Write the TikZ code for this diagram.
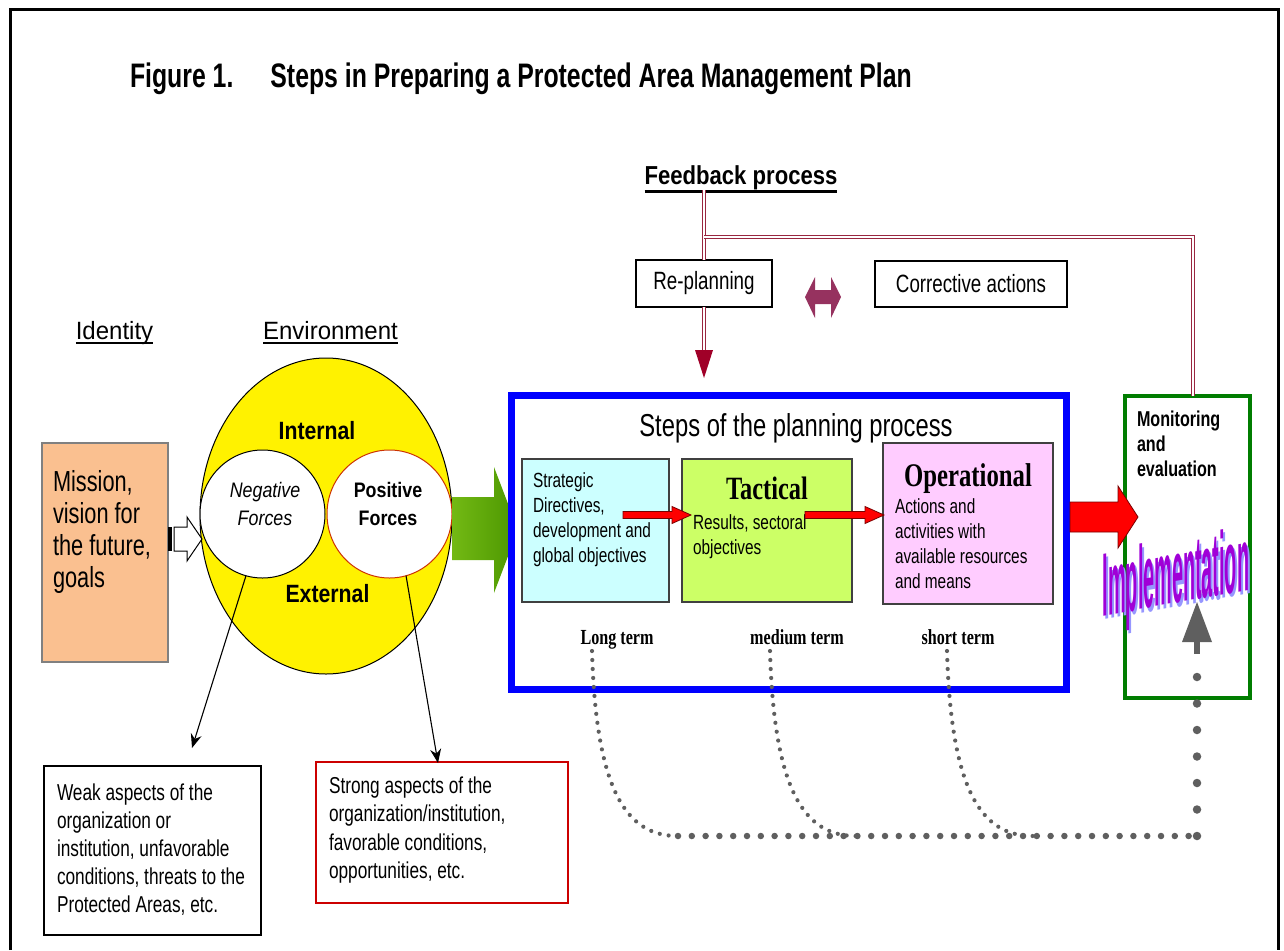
\documentclass[tikz,border=0pt]{standalone}
\usepackage{fontspec}
\usetikzlibrary{shapes.geometric,arrows.meta,calc}
\setmainfont{Liberation Sans}
\newfontfamily\fnar{Liberation Sans}[FakeStretch=0.75]
\newfontfamily\fmid{Liberation Sans}[FakeStretch=0.85]
\newfontfamily\fwide{Liberation Sans}[FakeStretch=0.96]
\newfontfamily\fhead{Liberation Sans}[FakeStretch=0.73]
\newfontfamily\fser{Liberation Serif}[FakeStretch=0.75]
\newfontfamily\fimpl{Liberation Sans}

\definecolor{maroonline}{RGB}{153,38,64}
\definecolor{maroonhead}{RGB}{160,0,40}
\definecolor{plum}{RGB}{150,50,95}
\definecolor{peach}{RGB}{250,192,144}
\definecolor{lightcyan}{RGB}{204,255,255}
\definecolor{limebox}{RGB}{204,255,102}
\definecolor{pinkbox}{RGB}{255,204,255}
\definecolor{monigreen}{RGB}{0,125,0}
\definecolor{dotgray}{RGB}{95,95,95}
\definecolor{posred}{RGB}{204,51,0}
\definecolor{strongred}{RGB}{204,0,0}
\definecolor{arrowred}{RGB}{255,0,0}
\definecolor{darkred}{RGB}{120,0,0}
\definecolor{implpurple}{RGB}{160,0,215}
\definecolor{implshadow}{RGB}{150,150,255}
\definecolor{greenlight}{RGB}{115,185,20}
\definecolor{greendark}{RGB}{75,150,0}

\newcommand\setfs[2]{\fontsize{#1}{#2}\selectfont}
% word-art lettering: tall, narrow letters with a soft offset shadow
\newcommand\wordart[1]{%
  \rlap{\raisebox{-4pt}{\hspace*{2pt}\textcolor{implshadow}{\scalebox{0.22}[1]{#1}}}}%
  \textcolor{implpurple}{\scalebox{0.22}[1]{#1}}}

\tikzset{
  box/.style={draw, line width=1.3pt, inner sep=0pt, outer sep=0pt, anchor=north west},
  txt/.style={inner sep=0pt, outer sep=0pt, align=left, anchor=north west},
  lbl/.style={inner sep=0pt, outer sep=0pt, anchor=base},
  fbline/.style={draw=maroonline, line width=1.1pt, double=white, double distance=1.6pt},
  smalldots/.style={draw=dotgray, line width=4.2pt, line cap=round, dash pattern=on 0pt off 9pt},
  rowdots/.style={draw=dotgray, line width=6.5pt, line cap=round, dash pattern=on 0pt off 13.8pt},
  coldots/.style={draw=dotgray, line width=8.5pt, line cap=round, dash pattern=on 0pt off 26.5pt},
  thinarrow/.style={draw=black, line width=1.1pt, -{Stealth[length=14pt,width=11pt]}},
  fatred/.style={fill=arrowred, draw=darkred, line width=0.8pt, line join=miter},
  smalltext/.style={font=\fnar\setfs{20.5}{25}}
}

\begin{document}
\begin{tikzpicture}[x=1pt,y=-1pt]
\useasboundingbox (0,0) rectangle (1284,950);

% outer frame
\draw[line width=3pt] (10,950) -- (10,10) -- (1278,10) -- (1278,950);

% title
\node[lbl, anchor=base west, font=\fhead\bfseries\setfs{34}{40}] (title) at (130,88)
  {Figure 1.\hspace*{37pt}Steps in Preparing a Protected Area Management Plan};

% column headings
\node[lbl, font=\fwide\setfs{25}{30}] (identity) at (114.5,339) {Identity};
\draw[line width=2.2pt] ([yshift=-4pt]identity.base west) -- ([yshift=-4pt]identity.base east);
\node[lbl, font=\fwide\setfs{25}{30}] (environment) at (330.5,339) {Environment};
\draw[line width=2.2pt] ([yshift=-4pt]environment.base west) -- ([yshift=-4pt]environment.base east);

% identity box
\node[box, draw=gray, line width=1.2pt, fill=peach, minimum width=126pt, minimum height=219pt] (mission) at (42,443) {};
\node[txt, font=\fnar\setfs{29}{32}] (missiontxt) at (53,470) {Mission,\\vision for\\the future,\\goals};

% environment circle with the two force fields
\node[ellipse, draw, line width=1pt, fill=yellow, minimum width=252pt, minimum height=316pt, inner sep=0pt, outer sep=0pt] (env) at (326,516) {};
\node[ellipse, draw, line width=1pt, fill=white, minimum width=125pt, minimum height=128pt, inner sep=0pt, outer sep=0pt] (neg) at (262.5,514) {};
\node[ellipse, draw=posred, line width=1pt, fill=white, minimum width=125pt, minimum height=128pt, inner sep=0pt, outer sep=0pt] (pos) at (389.5,514) {};
\node[lbl, font=\fmid\bfseries\setfs{25}{30}] (internal) at (317,439) {Internal};
\node[lbl, font=\fmid\bfseries\setfs{25}{30}] (external) at (327.5,602) {External};
\node[inner sep=0pt, align=center, anchor=north, font=\fmid\itshape\setfs{21}{28}] (negtxt) at (265,482.5) {Negative\\Forces};
\node[inner sep=0pt, align=center, anchor=north, font=\fmid\bfseries\setfs{21}{28}] (postxt) at (388,482.5) {Positive\\Forces};

% hollow arrow from identity to environment
\fill (168,527) rectangle (172,551);
\draw[line width=1pt, fill=white, line join=miter] (174,527) -- (187,527) -- (187,517) -- (202,539) -- (187,561) -- (187,551) -- (174,551) -- cycle;

% green arrow into the planning steps
\shade[left color=greenlight, right color=greendark] (452,497) -- (494,497) -- (494,467) -- (518,530) -- (494,593) -- (494,560) -- (452,560) -- cycle;

% planning process frame
\node[box, draw=blue, line width=7pt, fill=white, minimum width=555pt, minimum height=294pt] (steps) at (511,395) {};
\node[lbl, font=\fnar\setfs{31.7}{36}] (stepsttl) at (796,436) {Steps of the planning process};

\node[box, line width=1.2pt, draw=black!75, fill=lightcyan, minimum width=147pt, minimum height=143pt] (strat) at (522,459) {};
\node[txt, smalltext] (strattxt) at (533,473) {Strategic\\Directives,\\development and\\global objectives};

\node[box, line width=1.2pt, draw=black!75, fill=limebox, minimum width=170pt, minimum height=143pt] (tact) at (682,459) {};
\node[lbl, font=\fser\bfseries\setfs{32.5}{36}] (tactttl) at (767,499) {Tactical};
\node[txt, smalltext] (tacttxt) at (693,515) {Results, sectoral\\objectives};

\node[box, line width=1.2pt, draw=black!75, fill=pinkbox, minimum width=170pt, minimum height=161pt] (oper) at (883,443) {};
\node[lbl, font=\fser\bfseries\setfs{33}{36}] (operttl) at (968,486) {Operational};
\node[txt, smalltext] (opertxt) at (895,499) {Actions and\\activities with\\available resources\\and means};

% arrows between the steps
\draw[fatred] (623,511.5) -- (672,511.5) -- (672,506.5) -- (691,515) -- (672,523.5) -- (672,518.5) -- (623,518.5) -- cycle;
\draw[fatred] (805,511.5) -- (865,511.5) -- (865,506.5) -- (884,515) -- (865,523.5) -- (865,518.5) -- (805,518.5) -- cycle;

% horizons
\node[lbl, font=\fser\bfseries\setfs{21.5}{24}] (longt) at (617,644) {Long term};
\node[lbl, font=\fser\bfseries\setfs{21.5}{24}] (medt) at (797,644) {medium term};
\node[lbl, font=\fser\bfseries\setfs{21.5}{24}] (shortt) at (958,644) {short term};

% feedback part
\node[lbl, font=\fmid\bfseries\setfs{26}{30}] (fb) at (741,184.5) {Feedback process};
\draw[line width=3pt] ([yshift=-6.5pt]fb.base west) -- ([yshift=-6.5pt]fb.base east);

\node[box, minimum width=136pt, minimum height=47pt, font=\fnar\setfs{25}{28}] (replan) at (636,260) {Re-planning};
\node[box, minimum width=192pt, minimum height=46pt, font=\fnar\setfs{25}{28}] (corr) at (875,261) {Corrective actions};

% monitoring box
\node[box, draw=monigreen, line width=4.5pt, minimum width=125pt, minimum height=302pt] (moni) at (1125,396) {};
\node[txt, font=\fnar\bfseries\setfs{21.5}{25}] (monitxt) at (1137,410.5) {Monitoring\\and\\evaluation};

\coordinate (fbturn) at (1193,237);
\draw[fbline] (fb.south -| replan.north) -- (replan.north);
\draw[fbline] (replan.north |- fbturn) -- (fbturn) -- (fbturn |- moni.north);

\coordinate (rptip) at (704,378);
\draw[fbline] (replan.south) -- ([yshift=27pt]rptip);
\fill[maroonhead] ([xshift=-9pt,yshift=28pt]rptip) -- ([xshift=9pt,yshift=28pt]rptip) -- (rptip) -- cycle;

% two-way arrow between re-planning and corrective actions
\fill[plum] (805,297) -- (815,277) -- (815,290) -- (831,290) -- (831,277) -- (841,297) -- (831,318) -- (831,304) -- (815,304) -- (815,318) -- cycle;

% implementation arrow
\draw[fatred] (1070,502) -- (1118,502) -- (1118,486) -- (1138,517) -- (1118,548) -- (1118,532) -- (1070,532) -- cycle;

% dotted links from the time horizons
\coordinate (d1) at (592,651);
\coordinate (d2) at (770,651);
\coordinate (d3) at (947,651);
\coordinate (row0) at (678,836);
\coordinate (rowend) at (1197,836);
\draw[smalldots] (d1) .. controls (596,790) and (626,836) .. (row0);
\draw[smalldots] (d2) .. controls (774,790) and (804,836) .. (856,836);
\draw[smalldots] (d3) .. controls (951,790) and (981,836) .. (1033,836);
\draw[rowdots] (row0) -- (rowend);
\draw[coldots] (rowend) -- (1197,662);
\fill[dotgray] (1194,640) rectangle (1200,654);
\fill[dotgray] (1182,642) -- (1212,642) -- (1197,602) -- cycle;

% word art, sheared so that its baseline climbs to the right
\begin{scope}[shift={(1176,603)}, yslant=0.18]
  \node[lbl, transform shape, font=\fimpl\bfseries\setfs{90}{96}] (impl) at (0,0) {\wordart{Implementation}};
\end{scope}

% weak and strong aspects
\node[box, minimum width=217pt, minimum height=169pt] (weak) at (44,766) {};
\node[txt, font=\fnar\setfs{23}{28}] (weaktxt) at (57,784) {Weak aspects of the\\organization or\\institution, unfavorable\\conditions, threats to the\\Protected Areas, etc.};
\node[box, draw=strongred, minimum width=252pt, minimum height=141pt] (strong) at (316,762) {};
\node[txt, font=\fnar\setfs{23}{28.3}] (strongtxt) at (329,777) {Strong aspects of the\\organization/institution,\\favorable conditions,\\opportunities, etc.};

\coordinate (negtip) at (192,748);
\coordinate (postip) at (438,763);
\draw[thinarrow] (neg.255) -- (negtip);
\draw[thinarrow] (pos.285) -- (postip);

\end{tikzpicture}
\end{document}
